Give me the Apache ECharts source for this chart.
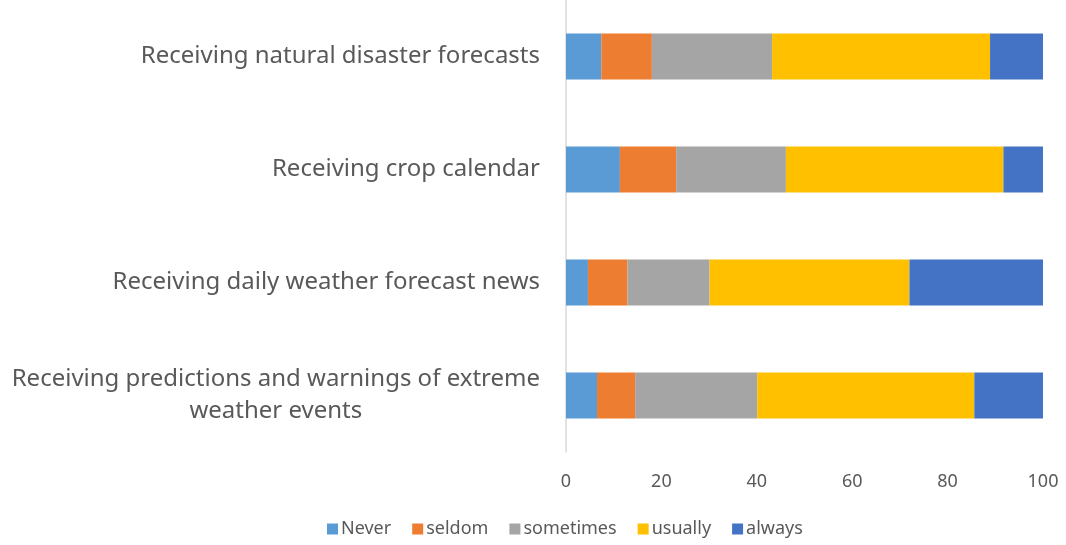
<!DOCTYPE html>
<html>
<head>
<meta charset="utf-8">
<script src="https://cdn.jsdelivr.net/npm/echarts@6/dist/echarts.min.js"></script>
<style>
  html, body { margin: 0; padding: 0; background: #fff; }
  #chart { width: 1066px; height: 545px; }
</style>
</head>
<body>
<div id="chart"></div>
<script>
// categories from bottom to top
const categories = [
  'Receiving predictions and warnings of extreme\nweather events',
  'Receiving daily weather forecast news',
  'Receiving crop calendar',
  'Receiving natural disaster forecasts'
]
const seriesNames = ['Never', 'seldom', 'sometimes', 'usually', 'always']
const never = [6.5, 4.6, 11.3, 7.4]
const seldom = [8.0, 8.3, 11.8, 10.6]
const sometimes = [25.6, 17.2, 23.0, 25.2]
const usually = [45.5, 41.9, 45.6, 45.7]
const always = [14.4, 28.0, 8.3, 11.1]
const xTicks = [0, 20, 40, 60, 80, 100]

const colors = ['#5B9BD5', '#ED7D31', '#A5A5A5', '#FFC000', '#4472C4']
const values = [never, seldom, sometimes, usually, always]
const font = 'Noto Sans'

const chart = echarts.init(document.getElementById('chart'))
chart.setOption({
  animation: false,
  grid: {
    left: 566,
    right: 23,
    top: 0,
    height: 452
  },
  legend: {
    left: 322,
    bottom: 2,
    itemWidth: 11,
    itemHeight: 11,
    itemGap: 21,
    icon: 'rect',
    textStyle: { color: '#595959', fontSize: 18, fontFamily: font, padding: [0, 0, 0, -2] },
    data: seriesNames
  },
  xAxis: {
    type: 'value',
    min: xTicks[0],
    max: xTicks[xTicks.length - 1],
    interval: 20,
    axisLine: { show: false },
    axisTick: { show: false },
    splitLine: { show: false },
    axisLabel: { color: '#595959', fontSize: 18, fontFamily: font, margin: 21 }
  },
  yAxis: {
    type: 'category',
    data: categories,
    axisLine: { show: true, lineStyle: { color: '#d9d9d9', width: 1.5 } },
    axisTick: { show: false },
    axisLabel: {
      margin: 26,
      color: '#595959',
      fontSize: 24,
      fontFamily: font,
      lineHeight: 32,
      formatter: v => v.split('\n').map(s => '{c|' + s + '}').join('\n'),
      rich: {
        c: { align: 'center', color: '#595959', fontSize: 24, fontFamily: font, lineHeight: 32 }
      }
    }
  },
  series: seriesNames.map((name, i) => ({
    name,
    type: 'bar',
    stack: 'total',
    barWidth: '40.7%',
    itemStyle: { color: colors[i] },
    data: values[i]
  }))
})
</script>
</body>
</html>
